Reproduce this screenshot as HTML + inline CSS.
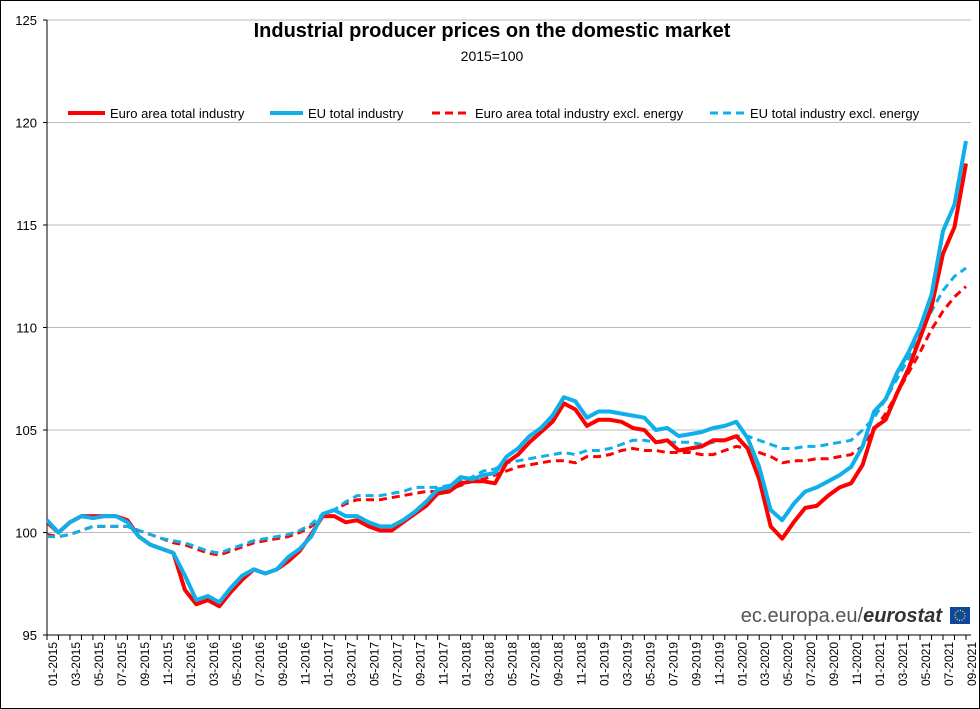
<!DOCTYPE html>
<html><head><meta charset="utf-8"><style>
body{margin:0;background:#fff}
svg{display:block;font-family:"Liberation Sans",Arial,sans-serif}
</style></head><body>
<svg id="chart" width="980" height="709" viewBox="0 0 980 709">
<rect x="0.5" y="0.5" width="979" height="708" fill="#fff" stroke="#000"/>
<text x="492" y="37" text-anchor="middle" font-size="20" font-weight="bold">Industrial producer prices on the domestic market</text>
<text x="492" y="61" text-anchor="middle" font-size="14">2015=100</text>
<g id="grid"></g>
<g id="yaxis"></g>
<g id="xaxis"></g>
<g id="series"></g>
<g>
<g><line x1="68" y1="113" x2="105" y2="113" stroke="#f00" stroke-width="4"/><text x="110" y="118" font-size="13">Euro area total industry</text></g>
<g><line x1="270" y1="113" x2="303" y2="113" stroke="#0fb0ea" stroke-width="4"/><text x="308" y="118" font-size="13">EU total industry</text></g>
<g><line x1="432" y1="113" x2="470" y2="113" stroke="#f00" stroke-width="3" stroke-dasharray="8,5"/><text x="475" y="118" font-size="13">Euro area total industry excl. energy</text></g>
<g><line x1="710" y1="113" x2="745" y2="113" stroke="#0fb0ea" stroke-width="3" stroke-dasharray="8,5"/><text x="750" y="118" font-size="13">EU total industry excl. energy</text></g>
</g>
<g>
<text x="942" y="622" text-anchor="end" font-size="20" fill="#555"><tspan>ec.europa.eu/</tspan><tspan font-weight="bold" font-style="italic" fill="#333">eurostat</tspan></text>
<rect x="950" y="607" width="20" height="17" fill="#0e47a1"/>
<circle cx="960" cy="615.5" r="5" fill="none" stroke="#ffdd00" stroke-width="1.5" stroke-dasharray="1,1.6"/>
</g>
</svg>
<script>
const categories = [];
for (let y = 2015; y <= 2021; y++) for (let m = 1; m <= 12; m++) { if (y === 2021 && m > 9) break; categories.push(String(m).padStart(2,'0') + '-' + y); }
const yTicks = [95, 100, 105, 110, 115, 120, 125];
const euroAreaTotal = [100.5,100.0,100.5,100.8,100.8,100.8,100.8,100.6,99.8,99.4,99.2,99.0,97.2,96.5,96.7,96.4,97.1,97.7,98.2,98.0,98.2,98.6,99.1,99.9,100.8,100.8,100.5,100.6,100.3,100.1,100.1,100.5,100.9,101.3,101.9,102.0,102.4,102.5,102.5,102.4,103.4,103.8,104.4,104.9,105.4,106.3,106.0,105.2,105.5,105.5,105.4,105.1,105.0,104.4,104.5,104.0,104.1,104.2,104.5,104.5,104.7,104.1,102.6,100.3,99.7,100.5,101.2,101.3,101.8,102.2,102.4,103.3,105.1,105.5,106.8,108.0,109.5,111.0,113.6,114.9,118.0];
const euTotal = [100.6,100.0,100.5,100.8,100.7,100.8,100.8,100.5,99.8,99.4,99.2,99.0,97.9,96.7,96.9,96.6,97.3,97.9,98.2,98.0,98.2,98.8,99.2,99.8,100.9,101.1,100.8,100.8,100.5,100.3,100.3,100.6,101.0,101.5,102.1,102.2,102.7,102.6,102.8,102.9,103.7,104.1,104.7,105.1,105.7,106.6,106.4,105.6,105.9,105.9,105.8,105.7,105.6,105.0,105.1,104.7,104.8,104.9,105.1,105.2,105.4,104.6,103.2,101.1,100.6,101.4,102.0,102.2,102.5,102.8,103.2,104.2,105.9,106.5,107.8,108.8,110.0,111.6,114.7,116.0,119.1];
const euroAreaExclEnergy = [99.9,99.8,99.9,100.1,100.3,100.3,100.3,100.3,100.1,99.9,99.7,99.5,99.4,99.2,99.0,98.9,99.1,99.3,99.5,99.6,99.7,99.8,100.0,100.3,100.8,101.1,101.4,101.6,101.6,101.6,101.7,101.8,101.9,102.0,102.0,102.1,102.3,102.5,102.6,102.8,103.0,103.2,103.3,103.4,103.5,103.5,103.4,103.7,103.7,103.8,104.0,104.1,104.0,104.0,103.9,103.9,103.9,103.8,103.8,104.0,104.2,104.1,103.9,103.7,103.4,103.5,103.5,103.6,103.6,103.7,103.8,104.2,105.0,105.8,106.8,107.8,108.8,109.9,110.8,111.5,112.0];
const euExclEnergy = [99.8,99.8,99.9,100.1,100.3,100.3,100.3,100.3,100.1,99.9,99.7,99.6,99.5,99.3,99.1,99.0,99.2,99.4,99.6,99.7,99.8,99.9,100.1,100.4,100.9,101.1,101.5,101.8,101.8,101.8,101.9,102.0,102.2,102.2,102.2,102.3,102.5,102.7,103.0,103.1,103.4,103.5,103.6,103.7,103.8,103.9,103.8,104.0,104.0,104.1,104.3,104.5,104.5,104.4,104.4,104.4,104.4,104.3,104.4,104.5,104.7,104.7,104.5,104.3,104.1,104.1,104.2,104.2,104.3,104.4,104.5,105.0,105.6,106.5,107.5,108.5,109.7,110.8,111.8,112.5,112.9];

const NS = 'http://www.w3.org/2000/svg';
const L = 47, R = 971, T = 20, B = 635, yMin = 95, yMax = 125;
const step = (966 - L) / (categories.length - 1);
const xPos = i => L + i * step;
const yPos = v => B - (v - yMin) / (yMax - yMin) * (B - T);
function mk(tag, attrs, parent) { const e = document.createElementNS(NS, tag); for (const k in attrs) e.setAttribute(k, attrs[k]); parent.appendChild(e); return e; }

const grid = document.getElementById('grid'), yax = document.getElementById('yaxis'), xax = document.getElementById('xaxis'), ser = document.getElementById('series');
yTicks.forEach(v => {
  const y = yPos(v);
  if (v !== yMin) {
    const g = mk('line', {x1: L, x2: R, y1: y, y2: y, stroke: '#bbb', 'stroke-width': 1}, grid);
    
    
  }
  mk('line', {x1: L - 4, x2: L, y1: y, y2: y, stroke: '#000'}, yax);
  const t = mk('text', {x: 37, y: y + 5, 'text-anchor': 'end', 'font-size': 13}, yax);
  t.textContent = v;
  
  
});
mk('line', {x1: L, x2: L, y1: T, y2: B, stroke: '#000'}, yax);
mk('line', {x1: L, x2: R, y1: B, y2: B, stroke: '#000'}, xax);
categories.forEach((c, i) => {
  const x = xPos(i);
  mk('line', {x1: x, x2: x, y1: B, y2: B + 5, stroke: '#000'}, xax);
  if (i % 2 === 0) {
    const t = mk('text', {x: 0, y: 0, 'text-anchor': 'end', 'font-size': 12, transform: `translate(${x + 10},${B + 7}) rotate(-90)`}, xax);
    t.textContent = c;
    
    
  }
});
function drawLine(data, color, width, dash, name) {
  const p = mk('polyline', {points: data.map((v, i) => xPos(i).toFixed(1) + ',' + yPos(v).toFixed(1)).join(' '), fill: 'none', stroke: color, 'stroke-width': width, 'stroke-linejoin': 'round'}, ser);
  if (dash) p.setAttribute('stroke-dasharray', dash);
  
  
}
drawLine(euroAreaExclEnergy, '#f00', 3, '8,5', 'line-euro-area-excl-energy');
drawLine(euExclEnergy, '#0fb0ea', 3, '8,5', 'line-eu-excl-energy');
drawLine(euroAreaTotal, '#f00', 4, null, 'line-euro-area-total');
drawLine(euTotal, '#0fb0ea', 4, null, 'line-eu-total');
</script>
</body></html>
